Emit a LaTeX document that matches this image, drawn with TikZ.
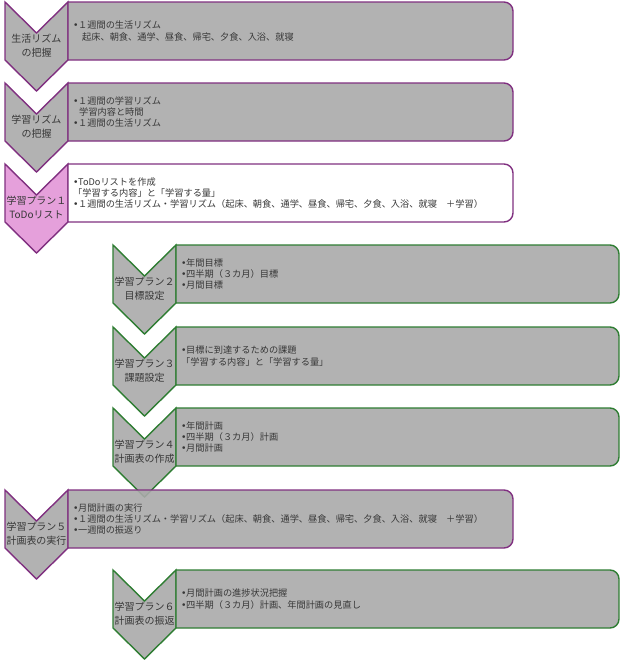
\documentclass[tikz,border=0pt]{standalone}
\usepackage{fontspec}
\setmainfont{Noto Sans CJK JP}
\newfontfamily\latinfont{DejaVu Sans}
\definecolor{pur}{RGB}{128,48,128}
\definecolor{grn}{RGB}{46,125,50}
\definecolor{cfill}{RGB}{178,178,178}
\definecolor{bfill}{RGB}{170,170,170}
\definecolor{pinkfill}{RGB}{229,160,219}
\definecolor{txt}{RGB}{55,55,55}
\newcommand\bul{\makebox[5pt][l]{\latinfont •}}
\newcommand\ChevRow[9]{%
  \path[chevbox, draw=#5, fill=#6] (#3,#2) -- ++(31.5,31) -- ++(31.5,-31) -- ++(0,58) -- ++(-31.5,31) -- ++(-31.5,-31) -- cycle;
  \node[chevlabel] (#1l) at (#3+31.5,#2+43.5) {#8};
  \path[listbox, draw=#5, fill=#7] (#3+63,#2) -- (#4-9,#2) arc[start angle=-90, end angle=0, radius=9] -- (#4,#2+49) arc[start angle=0, end angle=90, radius=9] -- (#3+63,#2+58) -- cycle;
  \node[boxtext] (#1t) at (#3+68,#2+29) {#9};
}
\begin{document}
\begin{tikzpicture}[x=1pt,y=-1pt,
  chevbox/.style={line width=1.4pt, line join=miter},
  listbox/.style={line width=1.4pt, fill opacity=0.9},
  chevlabel/.style={align=center, inner sep=0pt, text=txt, font=\fontsize{10}{14}\selectfont},
  boxtext/.style={anchor=west, align=left, inner sep=0pt, text=txt, font=\fontsize{9.2}{11.4}\selectfont}]
\useasboundingbox (0,0) rectangle (641,662);
\ChevRow{r1}{2}{5}{513}{pur}{cfill}{bfill}{生活リズム\\の把握}%
  {\bul １週間の生活リズム\\\hspace*{9pt}起床、朝食、通学、昼食、帰宅、夕食、入浴、就寝}
\ChevRow{r2}{83}{5}{513}{pur}{cfill}{bfill}{学習リズム\\の把握}%
  {\bul １週間の学習リズム\\\hspace*{6pt}学習内容と時間\\\bul １週間の生活リズム}
\ChevRow{r3}{164}{5}{513}{pur}{pinkfill}{white}{学習プラン１\\ToDoリスト}%
  {\bul ToDoリストを作成\\「学習する内容」と「学習する量」\\\bul １週間の生活リズム・学習リズム（起床、朝食、通学、昼食、帰宅、夕食、入浴、就寝　＋学習）}
\ChevRow{r4}{245}{113}{619}{grn}{cfill}{bfill}{学習プラン２\\目標設定}%
  {\bul 年間目標\\\bul 四半期（３カ月）目標\\\bul 月間目標}
\ChevRow{r5}{327}{113}{619}{grn}{cfill}{bfill}{学習プラン３\\課題設定}%
  {\bul 目標に到達するための課題\\「学習する内容」と「学習する量」}
\ChevRow{r6}{408}{113}{619}{grn}{cfill}{bfill}{学習プラン４\\計画表の作成}%
  {\bul 年間計画\\\bul 四半期（３カ月）計画\\\bul 月間計画}
\ChevRow{r7}{490}{5}{513}{pur}{cfill}{bfill}{学習プラン５\\計画表の実行}%
  {\bul 月間計画の実行\\\bul １週間の生活リズム・学習リズム（起床、朝食、通学、昼食、帰宅、夕食、入浴、就寝　＋学習）\\\bul 一週間の振返り}
\ChevRow{r8}{570}{113}{619}{grn}{cfill}{bfill}{学習プラン６\\計画表の振返}%
  {\bul 月間計画の進捗状況把握\\\bul 四半期（３カ月）計画、年間計画の見直し}
\end{tikzpicture}
\end{document}
